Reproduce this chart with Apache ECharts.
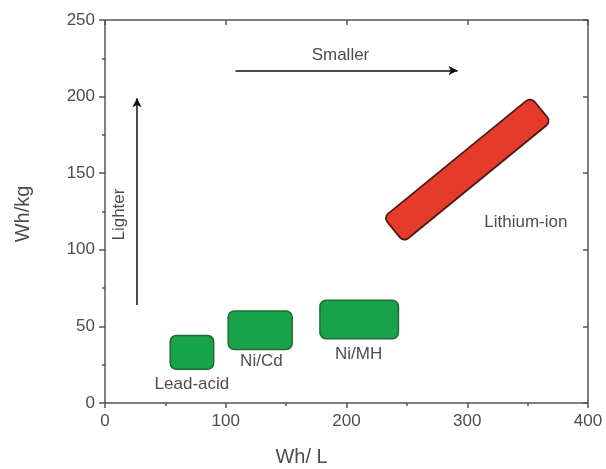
<!DOCTYPE html>
<html>
<head>
<meta charset="utf-8">
<script src="https://cdn.jsdelivr.net/npm/echarts@6/dist/echarts.min.js"></script>
<style>
html,body{margin:0;padding:0;background:#fff;}
#chart{width:606px;height:469px;}
</style>
</head>
<body>
<div id="chart"></div>
<script>
// ---- data ----
const categories = ['Lead-acid', 'Ni/Cd', 'Ni/MH'];
const boxXMin = [54, 102, 178];
const boxXMax = [90, 155, 243];
const boxYMin = [22, 35, 42];
const boxYMax = [44, 60, 67];

// Lithium-ion band: four corners (left, top, right, bottom)
const liName = 'Lithium-ion';
const liCornerX = [231, 353, 369, 247];
const liCornerY = [121.5, 200, 183, 105];

// labels [x, y]
const labelText = ['Lead-acid', 'Ni/Cd', 'Ni/MH', 'Lithium-ion', 'Smaller', 'Lighter'];
const labelX = [72, 129.5, 210, 348.5, 195, 12];
const labelY = [12.5, 27, 32, 118, 227, 123];
const labelRot = [0, 0, 0, 0, 0, 90];

// arrows [from, to]
const arrowSmallerX = [108, 292];
const arrowSmallerY = [217, 217];
const arrowLighterX = [26.5, 26.5];
const arrowLighterY = [64, 199];

const xTicks = [0, 100, 200, 300, 400];
const yTicks = [0, 50, 100, 150, 200, 250];

// ---- chart ----
const FONT = 'Liberation Sans, Arial, sans-serif';
const TXT = '#4d4d4d';
const AX = '#555';

const chart = echarts.init(document.getElementById('chart'), null, {renderer: 'canvas'});

const boxData = categories.map((c, i) => [boxXMin[i], boxXMax[i], boxYMin[i], boxYMax[i]]);
const liData = [[liCornerX[0], liCornerY[0], liCornerX[1], liCornerY[1], liCornerX[2], liCornerY[2], liCornerX[3], liCornerY[3]]];
const labelData = labelText.map((t, i) => [labelX[i], labelY[i], t, labelRot[i]]);

const axisCommon = {
  axisLine: {show: true, onZero: false, lineStyle: {color: AX, width: 1.5}},
  splitLine: {show: false},
};

const option = {
  backgroundColor: '#fff',
  animation: false,
  grid: {left: 105, right: 18, top: 20, bottom: 66, containLabel: false, outerBoundsMode: 'none'},
  xAxis: [
    Object.assign({}, axisCommon, {
      type: 'value', min: 0, max: 400, interval: 100, position: 'bottom',
      name: 'Wh/ L', nameLocation: 'middle', nameGap: 44,
      nameTextStyle: {fontFamily: FONT, fontSize: 20, color: TXT, padding: [0, 90, 0, 0]},
      axisTick: {show: true, inside: false, length: 5, lineStyle: {color: AX, width: 1.5}},
      minorTick: {show: true, splitNumber: 2, length: 3, lineStyle: {color: AX, width: 1.5}},
      axisLabel: {fontFamily: FONT, fontSize: 17, color: TXT, margin: 10,
        formatter: v => xTicks.includes(v) ? String(v) : ''}
    }),
    Object.assign({}, axisCommon, {
      type: 'value', min: 0, max: 400, interval: 100, position: 'top',
      axisTick: {show: true, inside: true, length: 5, lineStyle: {color: AX, width: 1.5}},
      axisLabel: {show: false}
    })
  ],
  yAxis: [
    Object.assign({}, axisCommon, {
      type: 'value', min: 0, max: 250, interval: 50, position: 'left',
      name: 'Wh/kg', nameLocation: 'middle', nameGap: 72, nameRotate: 90,
      nameTextStyle: {fontFamily: FONT, fontSize: 20, color: TXT, padding: [0, 5, 0, 0]},
      axisTick: {show: true, inside: false, length: 6, lineStyle: {color: AX, width: 1.5}},
      minorTick: {show: true, splitNumber: 2, length: 3, lineStyle: {color: AX, width: 1.5}},
      axisLabel: {fontFamily: FONT, fontSize: 17, color: TXT, margin: 10,
        formatter: v => yTicks.includes(v) ? String(v) : ''}
    }),
    Object.assign({}, axisCommon, {
      type: 'value', min: 0, max: 250, interval: 50, position: 'right',
      axisTick: {show: true, inside: true, length: 5, lineStyle: {color: AX, width: 1.5}},
      axisLabel: {show: false}
    })
  ],
  series: [
    {
      type: 'custom',
      name: 'boxes',
      data: boxData,
      renderItem: function (params, api) {
        const p0 = api.coord([api.value(0), api.value(3)]);
        const p1 = api.coord([api.value(1), api.value(2)]);
        return {
          type: 'rect',
          shape: {x: p0[0], y: p0[1], width: p1[0] - p0[0], height: p1[1] - p0[1], r: 6},
          style: {fill: '#16a34a', stroke: '#1d6b33', lineWidth: 1.5}
        };
      }
    },
    {
      type: 'custom',
      name: liName,
      data: liData,
      renderItem: function (params, api) {
        const pts = [0, 1, 2, 3].map(k => api.coord([api.value(2 * k), api.value(2 * k + 1)]));
        const cx = (pts[0][0] + pts[1][0] + pts[2][0] + pts[3][0]) / 4;
        const cy = (pts[0][1] + pts[1][1] + pts[2][1] + pts[3][1]) / 4;
        const dx = pts[1][0] - pts[0][0], dy = pts[1][1] - pts[0][1];
        const L = Math.hypot(dx, dy);
        const W = Math.hypot(pts[3][0] - pts[0][0], pts[3][1] - pts[0][1]);
        const rot = Math.atan2(-dy, dx);
        return {
          type: 'rect',
          x: cx, y: cy, rotation: rot,
          shape: {x: -L / 2, y: -W / 2, width: L, height: W, r: 6},
          style: {fill: '#e63a2a', stroke: '#4a1a12', lineWidth: 1.8}
        };
      }
    },
    {
      type: 'line',
      name: 'arrows',
      data: [],
      markLine: {
        silent: true,
        symbol: ['none', 'arrow'],
        symbolSize: [7, 9],
        lineStyle: {color: '#111', width: 1.5, type: 'solid'},
        label: {show: false},
        data: [
          [{coord: [arrowSmallerX[0], arrowSmallerY[0]]}, {coord: [arrowSmallerX[1], arrowSmallerY[1]]}],
          [{coord: [arrowLighterX[0], arrowLighterY[0]]}, {coord: [arrowLighterX[1], arrowLighterY[1]]}]
        ]
      }
    },
    {
      type: 'custom',
      name: 'labels',
      data: labelData,
      renderItem: function (params, api) {
        const p = api.coord([api.value(0), api.value(1)]);
        return {
          type: 'text',
          x: p[0], y: p[1],
          rotation: api.value(3) * Math.PI / 180,
          style: {
            text: labelText[params.dataIndex],
            fill: TXT, font: '17px ' + FONT,
            textAlign: 'center', textVerticalAlign: 'middle'
          }
        };
      }
    }
  ]
};
chart.setOption(option);
</script>
</body>
</html>
